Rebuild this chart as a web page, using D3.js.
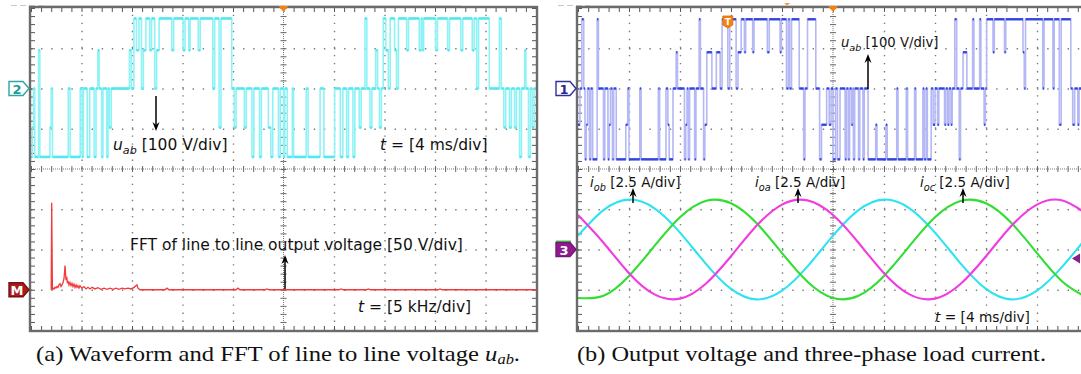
<!DOCTYPE html>
<html>
<head>
<meta charset="utf-8">
<script src="https://cdn.jsdelivr.net/npm/d3@7/dist/d3.min.js"></script>
<style>
  html, body { margin: 0; padding: 0; background: #fff; }
  svg { display: block; }
  .lbl { font-family: "DejaVu Sans", Verdana, sans-serif; fill: #111; }
  .cap { font-family: "Liberation Serif", "Times New Roman", serif; font-size: 21px; fill: #111; }
</style>
</head>
<body>
<svg id="chart" width="1081" height="374"></svg>
<script>
// ---- data -------------------------------------------------------------
// line-to-line voltage u_ab, scope (a): [time ms, volts], step changes
const uabA = [
  [-20.0,-170],[-19.9,-97],[-19.8,0],[-19.7,-170],[-19.4,95],[-19.3,-170],[-18.5,-97],[-18.4,0],
  [-18.3,-170],[-17.05,0],[-16.9,-170],[-16.1,0],[-15.95,-170],[-15.85,0],[-15.55,-170],[-15.35,0],
  [-15.0,-170],[-14.85,0],[-14.7,95],[-14.6,0],[-14.4,-170],[-14.3,0],[-14.0,-170],[-13.9,0],
  [-13.8,-97],[-13.65,0],[-12.2,95],[-12.05,0],[-11.85,174],[-11.65,95],[-11.45,174],[-11.25,0],
  [-11.1,95],[-10.9,174],[-10.6,95],[-10.45,174],[-10.2,0],[-10.05,95],[-9.85,174],[-8.85,95],
  [-8.7,174],[-7.95,95],[-7.8,174],[-7.5,95],[-7.4,174],[-6.75,95],[-6.6,174],[-5.6,0],
  [-5.45,174],[-5.1,-97],[-4.95,174],[-4.1,0],[-3.9,-97],[-3.75,0],[-3.1,-97],[-2.95,0],
  [-2.5,-170],[-2.35,0],[-1.9,-170],[-1.75,0],[-1.2,-97],[-1.0,-170],[-0.85,0],[-0.4,-170],
  [-0.25,0],[0.0,-170],[0.1,0],[0.3,-170],[0.7,0],[0.8,-170],[1.8,0],[1.95,-170],
  [2.9,0],[3.2,-170],[4.05,0],[4.5,-170],[4.7,0],[5.0,-170],[5.15,0],[5.5,-170],
  [5.65,0],[6.0,-97],[6.15,0],[6.45,174],[6.6,0],[6.85,-97],[7.0,0],[7.3,95],
  [7.45,0],[7.6,-97],[7.75,0],[7.9,174],[8.1,95],[8.3,0],[8.45,174],[8.8,95],
  [8.95,0],[9.1,174],[9.75,95],[9.9,174],[10.75,95],[10.9,174],[11.0,95],[11.1,174],
  [12.05,95],[12.2,174],[13.0,95],[13.15,174],[14.05,95],[14.2,174],[14.95,95],[15.1,174],
  [15.3,0],[15.45,174],[16.3,0],[17.1,174],[17.25,0],[17.45,-97],[17.6,0],[17.9,-97],
  [18.05,0],[18.3,-97],[18.45,0],[18.7,-170],[18.85,0],[19.1,95],[19.2,0],[19.4,-170],
  [19.55,0],[19.7,-97],[19.85,0],[20.0,0]
];

// FFT of u_ab: [frequency kHz, volts]
const fftA = [
  [2.0,0],[2.05,108],[2.12,0],[2.18,2],[2.28,1],[2.38,3],[2.48,2],[2.57,4],[2.67,3],[2.77,6],
  [2.87,7.5],[2.97,4],[3.07,6],[3.17,9],[3.27,14],[3.37,30],[3.42,20],[3.47,12],[3.54,16],
  [3.60,8],[3.66,11],[3.76,6],[3.86,9],[3.96,5],[4.06,8],[4.16,4],[4.26,7],[4.36,3],[4.46,6],
  [4.55,3],[4.65,5],[4.75,2],[4.85,5],[5.05,2],[5.25,4],[5.45,1],[5.64,3],[5.84,1],[6.04,3],
  [6.34,1],[6.63,2.5],[6.93,0.5],[7.23,2],[7.52,0.5],[7.82,2],[8.12,0.5],[8.42,2],[8.71,0.5],
  [9.01,2],[9.31,1],[9.60,2],[9.90,1],[10.2,3],[10.49,6],[10.59,2],[10.79,0],[13.27,0],
  [13.46,2],[13.66,0],[20.3,0],[20.49,2],[20.69,0],[23.17,0],[23.36,1],[23.56,0],[30.5,0],
  [30.7,1],[30.9,0],[33.2,0],[33.4,1],[33.6,0],[40.3,0],[40.5,1],[40.7,0],[50.0,0]
];

// line-to-line voltage u_ab, scope (b): [time ms, volts]
const uabB = [
  [-20.0,-90],[-19.85,0],[-19.7,172],[-19.55,0],[-19.45,-176],[-19.35,-90],[-19.25,0],[-19.1,-176],
  [-19.0,0],[-18.85,-176],[-18.5,172],[-18.4,0],[-18.0,-176],[-17.9,0],[-17.65,-176],[-17.55,-90],
  [-17.45,0],[-17.3,-176],[-17.2,0],[-17.0,-176],[-16.25,-90],[-16.1,0],[-16.0,-176],[-15.15,0],
  [-15.05,-176],[-13.7,0],[-13.6,-176],[-13.1,0],[-12.95,-90],[-12.85,-176],[-12.55,0],[-12.3,90],
  [-12.2,0],[-11.65,-176],[-11.55,-90],[-11.45,0],[-11.35,-176],[-11.25,0],[-10.85,-176],[-10.75,0],
  [-10.5,172],[-10.4,0],[-10.15,-176],[-10.05,-90],[-9.9,90],[-9.5,0],[-9.15,90],[-8.85,0],
  [-8.7,172],[-8.25,0],[-8.1,172],[-7.6,0],[-7.45,90],[-7.2,172],[-6.95,90],[-6.85,172],
  [-6.3,90],[-6.2,172],[-5.15,90],[-5.0,172],[-4.15,90],[-4.05,172],[-3.65,0],[-3.5,172],
  [-3.4,0],[-3.25,172],[-2.65,0],[-2.3,-176],[-2.2,0],[-2.0,172],[-1.35,0],[-1.05,-176],
  [-0.9,-90],[-0.5,0],[-0.3,-90],[-0.15,0],[0.0,-176],[0.2,0],[0.35,-176],[0.55,0],
  [0.95,-176],[1.05,0],[1.2,-176],[1.3,0],[1.45,-90],[1.55,0],[1.6,-176],[1.7,0],
  [2.0,-176],[2.1,0],[2.35,-176],[2.45,0],[2.75,-176],[3.35,-90],[3.45,-176],[4.15,-90],
  [4.25,-176],[5.0,0],[5.1,-176],[5.75,0],[5.85,-176],[6.4,0],[6.5,-176],[7.05,0],
  [7.15,-176],[7.3,0],[7.4,-176],[7.7,0],[7.85,-90],[8.0,0],[8.2,-90],[8.3,0],
  [8.75,-90],[8.85,0],[9.0,-90],[9.1,0],[9.25,-90],[9.35,0],[9.55,172],[9.7,0],
  [9.9,-176],[10.0,0],[10.2,90],[10.5,0],[10.95,172],[11.05,0],[11.5,172],[11.6,0],
  [11.85,-90],[11.95,0],[12.05,172],[12.55,90],[12.65,172],[13.45,90],[13.55,172],[14.9,90],
  [15.0,0],[15.1,172],[16.45,0],[16.55,172],[17.25,0],[17.35,172],[17.75,-90],[17.9,172],
  [18.65,0],[18.8,-90],[18.95,0],[19.2,-90],[19.3,0],[20.0,0]
];

// load currents, sampled every 2 ms from -20 to 20 ms (amperes)
const currentTime = [-20,-18,-16,-14,-12,-10,-8,-6,-4,-2,0,2,4,6,8,10,12,14,16,18,20];
const iob = [0.86,2.45,3.10,2.56,1.05,-0.86,-2.45,-3.10,-2.56,-1.05,0.86,2.45,3.10,2.56,1.05,-0.86,-2.45,-3.10,-2.56,-1.05,0.86];
const ioc = [-3.01,-2.87,-1.64,0.22,2.00,3.01,2.87,1.64,-0.22,-2.00,-3.01,-2.87,-1.64,0.22,2.00,3.01,2.87,1.64,-0.22,-2.00,-3.01];
const ioa = [2.14,0.42,-1.47,-2.79,-3.05,-2.14,-0.42,1.47,2.79,3.05,2.14,0.42,-1.47,-2.79,-3.05,-2.14,-0.42,1.47,2.79,3.05,2.14];

// ---- layout -----------------------------------------------------------
const svg = d3.select("#chart");
const TOP = 8, BOTTOM = 330;
const panels = [
  { id: "a", x0: 31, x1: 536 },
  { id: "b", x0: 578, x1: 1088 }
];
const gridColor = "#7a7a7a";

panels.forEach(p => {
  p.xDiv = d3.scaleLinear().domain([-5, 5]).range([p.x0, p.x1]);
  p.yDiv = d3.scaleLinear().domain([-4, 4]).range([BOTTOM, TOP]);
  p.cx = p.xDiv(0);
  p.cy = p.yDiv(0);
  const w = p.x1 - p.x0, h = BOTTOM - TOP;
  const g = svg.append("g").attr("class", "screen-" + p.id);
  p.g = g;

  svg.append("clipPath").attr("id", "clip-" + p.id)
    .append("rect").attr("x", p.x0).attr("y", TOP).attr("width", w).attr("height", h);

  // dotted division grid
  const vx = d3.axisBottom(p.xDiv).tickValues([-4,-3,-2,-1,1,2,3,4]).tickSize(-h).tickFormat("");
  g.append("g").attr("transform", `translate(0,${BOTTOM})`).call(vx)
    .call(s => s.select(".domain").remove())
    .selectAll("line").attr("stroke", gridColor).attr("stroke-width", 1.4)
    .attr("stroke-dasharray", `1.4,${h / 40 - 1.4}`);
  const hy = d3.axisLeft(p.yDiv).tickValues([-3,-2,-1,1,2,3]).tickSize(-w).tickFormat("");
  g.append("g").attr("transform", `translate(${p.x0},0)`).call(hy)
    .call(s => s.select(".domain").remove())
    .selectAll("line").attr("stroke", gridColor).attr("stroke-width", 1.4)
    .attr("stroke-dasharray", `1.4,${w / 50 - 1.4}`);

  // centre axes: dotted line plus minor tick crosses
  const minorX = d3.range(-5, 5.001, 0.2).map(v => +v.toFixed(2));
  const minorY = d3.range(-4, 4.001, 0.2).map(v => +v.toFixed(2));
  g.append("line").attr("x1", p.x0).attr("x2", p.x1).attr("y1", p.cy).attr("y2", p.cy)
    .attr("stroke", gridColor).attr("stroke-width", 1).attr("stroke-dasharray", "1,1");
  g.append("line").attr("x1", p.cx).attr("x2", p.cx).attr("y1", TOP).attr("y2", BOTTOM)
    .attr("stroke", gridColor).attr("stroke-width", 1).attr("stroke-dasharray", "1,1");
  [3, -3].forEach(sz => {
    g.append("g").attr("transform", `translate(0,${p.cy})`)
      .call(d3.axisBottom(p.xDiv).tickValues(minorX).tickSize(sz).tickFormat(""))
      .call(s => s.select(".domain").remove())
      .selectAll("line").attr("stroke", "#666");
    g.append("g").attr("transform", `translate(${p.cx},0)`)
      .call(d3.axisRight(p.yDiv).tickValues(minorY).tickSize(sz).tickFormat(""))
      .call(s => s.select(".domain").remove())
      .selectAll("line").attr("stroke", "#666");
  });

  // frame edge ticks, pointing inwards
  g.append("g").attr("transform", `translate(0,${BOTTOM})`)
    .call(d3.axisBottom(p.xDiv).tickValues(minorX).tickSize(-4).tickFormat(""))
    .call(s => s.select(".domain").remove()).selectAll("line").attr("stroke", "#555");
  g.append("g").attr("transform", `translate(0,${TOP})`)
    .call(d3.axisTop(p.xDiv).tickValues(minorX).tickSize(-4).tickFormat(""))
    .call(s => s.select(".domain").remove()).selectAll("line").attr("stroke", "#555");
  g.append("g").attr("transform", `translate(${p.x0},0)`)
    .call(d3.axisLeft(p.yDiv).tickValues(minorY).tickSize(-4).tickFormat(""))
    .call(s => s.select(".domain").remove()).selectAll("line").attr("stroke", "#555");
  g.append("g").attr("transform", `translate(${p.x1},0)`)
    .call(d3.axisRight(p.yDiv).tickValues(minorY).tickSize(-4).tickFormat(""))
    .call(s => s.select(".domain").remove()).selectAll("line").attr("stroke", "#555");

  // status strip above the screen
  svg.append("line").attr("x1", p.x0 - 20).attr("x2", p.x0 + 12).attr("y1", 5.5).attr("y2", 5.5)
    .attr("stroke", "#c8c8c8").attr("stroke-width", 1).attr("stroke-dasharray", "6,3");
  svg.append("line").attr("x1", p.x0 + 12).attr("x2", p.x0 + 430).attr("y1", 5.5).attr("y2", 5.5)
    .attr("stroke", "#e2e2e2").attr("stroke-width", 1);
});

// ---- traces -----------------------------------------------------------
function stepTrace(p, data, y, lineColor, levelColor, levelWidth) {
  const x = d3.scaleLinear().domain([-20, 20]).range([p.x0, p.x1]);
  const tg = svg.append("g").attr("clip-path", `url(#clip-${p.id})`);
  const line = d3.line().x(d => x(d[0])).y(d => y(d[1])).curve(d3.curveStepAfter);
  tg.append("path").datum(data).attr("d", line)
    .attr("fill", "none").attr("stroke", lineColor).attr("stroke-width", 1.6);
  const segs = data.slice(0, -1).map((d, i) => [d[0], data[i + 1][0], d[1]]);
  tg.selectAll("line.lvl").data(segs).join("line").attr("class", "lvl")
    .attr("x1", d => x(d[0])).attr("x2", d => x(d[1]))
    .attr("y1", d => y(d[2])).attr("y2", d => y(d[2]))
    .attr("stroke", levelColor).attr("stroke-width", levelWidth);
}

const A = panels[0], B = panels[1];

// channel 2: 100 V/div, zero two divisions above the centre
const yCh2 = d3.scaleLinear().domain([-600, 200]).range([BOTTOM, TOP]);
stepTrace(A, uabA, yCh2, "#8ff3f6", "#55e6ee", 2.6);

// math channel: FFT, 50 V/div, 5 kHz/div
const xF = d3.scaleLinear().domain([0, 50]).range([A.x0, A.x1]);
const yF = d3.scaleLinear().domain([-50, 350]).range([BOTTOM, TOP]);
svg.append("g").attr("clip-path", "url(#clip-a)")
  .append("path").datum(fftA)
  .attr("d", d3.line().x(d => xF(d[0])).y(d => yF(d[1])))
  .attr("fill", "none").attr("stroke", "#f23a3a").attr("stroke-width", 1.3);

// channel 1: 100 V/div
const yCh1 = d3.scaleLinear().domain([-600, 200]).range([BOTTOM, TOP]);
stepTrace(B, uabB, yCh1, "#b4b8f4", "#3444e0", 2.4);

// channel 3 and others: 2.5 A/div, zero two divisions above the bottom
const xT = d3.scaleLinear().domain([-20, 20]).range([B.x0, B.x1]);
const yI = d3.scaleLinear().domain([-5, 15]).range([BOTTOM, TOP]);
const currents = [
  { name: "iob", values: iob, color: "#2ee3f0" },
  { name: "ioc", values: ioc, color: "#33dd33" },
  { name: "ioa", values: ioa, color: "#f03ce0" }
];
const cg = svg.append("g").attr("clip-path", "url(#clip-b)");
currents.forEach(c => {
  cg.append("path").datum(currentTime.map((t, i) => [t, c.values[i]]))
    .attr("d", d3.line().x(d => xT(d[0])).y(d => yI(d[1])).curve(d3.curveNatural))
    .attr("fill", "none").attr("stroke", c.color).attr("stroke-width", 2.1);
});

// ---- frames -----------------------------------------------------------
panels.forEach(p => {
  svg.append("rect").attr("x", p.x0 - 1).attr("y", TOP - 1)
    .attr("width", p.x1 - p.x0 + 2).attr("height", BOTTOM - TOP + 2)
    .attr("fill", "none").attr("stroke", "#6b6b6b").attr("stroke-width", 2.4);
  // trigger position marker
  svg.append("path")
    .attr("d", `M${p.cx - 5},${TOP - 2} L${p.cx + 5},${TOP - 2} L${p.cx},${TOP + 4} Z`)
    .attr("fill", "#f5820f");
});

// trigger level marker "T" on screen (b)
const tx = xT(-8.25);
svg.append("path")
  .attr("d", `M${tx - 5},${16} h10 v9 l-5,3 l-5,-3 Z`)
  .attr("fill", "#f5820f").attr("stroke", "#e06a00").attr("stroke-width", 0.8);
svg.append("text").attr("x", tx).attr("y", 24.5).attr("text-anchor", "middle")
  .attr("font-family", "DejaVu Sans").attr("font-size", 9).attr("font-weight", "bold")
  .attr("fill", "#fff").text("T");
svg.append("path").attr("d", `M${xT(-3.6) - 3},3 h6 l-3,3 Z`).attr("fill", "#f5a050");

// channel markers on the left of each screen
function chMarker(x0, y, label, fill, stroke, textColor) {
  const xs = x0 - 21;
  svg.append("path")
    .attr("d", `M${xs},${y - 7} h14 l6,7 l-6,7 h-14 Z`)
    .attr("fill", fill).attr("stroke", stroke).attr("stroke-width", 1.4);
  svg.append("text").attr("x", xs + 8).attr("y", y + 5).attr("text-anchor", "middle")
    .attr("font-family", "DejaVu Sans").attr("font-size", 13).attr("font-weight", "bold")
    .attr("fill", textColor).text(label);
}
chMarker(A.x0 - 1, yCh2(0), "2", "#ffffff", "#2aa8a8", "#1f9c9c");
chMarker(A.x0 - 1, yF(0), "M", "#a81c1c", "#7a1010", "#ffffff");
chMarker(B.x0 - 1, yCh1(0), "1", "#ffffff", "#30309a", "#2a2a90");
svg.append("rect").attr("x", B.x0 - 22).attr("y", yI(0) - 9).attr("width", 15).attr("height", 2).attr("fill", "#3bd23b");
chMarker(B.x0 - 1, yI(0), "3", "#8e1c8e", "#7a147a", "#ffffff");
svg.append("path").attr("d", `M${1072},${yI(0) + 9} l8,-5 v10 Z`).attr("fill", "#8e1c8e");

// ---- annotations ------------------------------------------------------
function arrow(x, yFrom, yTo) {
  const dir = yTo > yFrom ? 1 : -1;
  svg.append("line").attr("x1", x).attr("x2", x).attr("y1", yFrom).attr("y2", yTo - dir * 6)
    .attr("stroke", "#000").attr("stroke-width", 1.5);
  svg.append("path")
    .attr("d", `M${x},${yTo} L${x - 3.5},${yTo - dir * 9} L${x},${yTo - dir * 6} L${x + 3.5},${yTo - dir * 9} Z`)
    .attr("fill", "#000");
}
function label(x, y, size, sym, sub, rest) {
  const t = svg.append("text").attr("class", "lbl").attr("x", x).attr("y", y)
    .attr("font-size", size);
  if (sym) {
    t.append("tspan").attr("font-style", "italic").text(sym);
    if (sub) t.append("tspan").attr("font-style", "italic").attr("font-size", size * 0.72).attr("dy", 4).text(sub);
    t.append("tspan").attr("dy", sub ? -4 : 0).text(rest);
  } else {
    t.text(rest);
  }
  return t;
}

// screen (a)
label(113, 150, 15.5, "u", "ab", " [100 V/div]");
arrow(156, 96, 131);
label(380, 150, 15.5, "t", null, " = [4 ms/div]");
label(130, 250, 15.5, null, null, "FFT of line to line output voltage [50 V/div]");
arrow(285, 289, 255);
label(358, 312, 15.5, "t", null, " = [5 kHz/div]");

// screen (b)
label(841, 47, 13.2, "u", "ab", " [100 V/div]");
arrow(868, 89, 54);
label(590, 187, 13.5, "i", "ob", " [2.5 A/div]");
arrow(633, 203, 188);
label(755, 187, 13.5, "i", "oa", " [2.5 A/div]");
arrow(798, 203, 188);
label(920, 187, 13.5, "i", "oc", " [2.5 A/div]");
arrow(963, 203, 188);
label(935, 322, 13.7, "t", null, " = [4 ms/div]");

// captions
const capA = svg.append("text").attr("class", "cap").attr("x", 36).attr("y", 361)
  .attr("textLength", 484).attr("lengthAdjust", "spacingAndGlyphs");
capA.append("tspan").text("(a)  Waveform and FFT of line to line voltage ");
capA.append("tspan").attr("font-style", "italic").text("u");
capA.append("tspan").attr("font-style", "italic").attr("font-size", 14).attr("dy", 3).text("ab");
capA.append("tspan").attr("dy", -3).text(".");
svg.append("text").attr("class", "cap").attr("x", 577).attr("y", 361)
  .attr("textLength", 469).attr("lengthAdjust", "spacingAndGlyphs")
  .text("(b)  Output voltage and three-phase load current.");
</script>
</body>
</html>
